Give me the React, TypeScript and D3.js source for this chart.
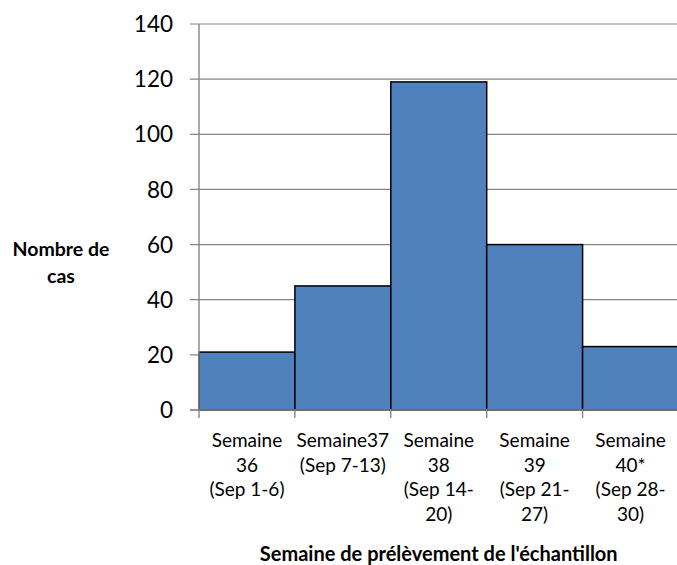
import React from "react";
import * as d3 from "d3";

// Weekly case counts by sampling week
const weekLabels: string[][] = [
  ["Semaine", "36", "(Sep 1-6)"],
  ["Semaine37", "(Sep 7-13)"],
  ["Semaine", "38", "(Sep 14-", "20)"],
  ["Semaine", "39", "(Sep 21-", "27)"],
  ["Semaine", "40*", "(Sep 28-", "30)"],
];
const weekKeys: string[] = ["S36", "S37", "S38", "S39", "S40"];
const caseCounts: number[] = [21, 45, 119, 60, 23];
const yTicks: number[] = [0, 20, 40, 60, 80, 100, 120, 140];

const W = 677;
const H = 565;
const margin = { left: 199, top: 24, right: -1.5, bottom: 155 };

const FONT = "Lato, 'Open Sans', sans-serif";
const GRID = "#868686";
const BAR = "#4F81BD";

export default function App() {
  const x = d3
    .scaleBand<string>()
    .domain(weekKeys)
    .range([margin.left, W - margin.right])
    .paddingInner(0)
    .paddingOuter(0);
  const y = d3.scaleLinear().domain([0, 140]).range([H - margin.bottom, margin.top]);

  const x0 = margin.left;
  const x1 = W - margin.right;
  const y0 = y(0);
  const bw = x.bandwidth();

  return (
    <svg
      width={W}
      height={H}
      style={{ position: "absolute", left: 0, top: 0, background: "#fff" }}
    >
      {/* horizontal gridlines with outer tick marks */}
      {yTicks.map((t) => (
        <g key={t}>
          <line x1={x0 - 9} x2={x1} y1={y(t)} y2={y(t)} stroke={GRID} strokeWidth={1.2} />
          <text
            x={173}
            y={y(t)}
            dy="0.36em"
            textAnchor="end"
            fontFamily={FONT}
            fontSize={22.5}
            fill="#000"
          >
            {t}
          </text>
        </g>
      ))}

      {/* bars */}
      {weekKeys.map((k, i) => (
        <rect
          key={k}
          x={x(k)!}
          y={y(caseCounts[i])}
          width={bw}
          height={y0 - y(caseCounts[i])}
          fill={BAR}
          stroke="#000"
          strokeWidth={1.5}
        />
      ))}

      {/* axes */}
      <line x1={x0} x2={x0} y1={y(140)} y2={y0 + 8} stroke={GRID} strokeWidth={1.4} />
      <line x1={x0 - 9} x2={x1} y1={y0} y2={y0} stroke={GRID} strokeWidth={1.6} />
      {weekKeys.map((k) => (
        <line
          key={k}
          x1={x(k)! + bw}
          x2={x(k)! + bw}
          y1={y0}
          y2={y0 + 8}
          stroke={GRID}
          strokeWidth={1.4}
        />
      ))}

      {/* category labels */}
      {weekKeys.map((k, i) => (
        <text
          key={k}
          x={x(k)! + bw / 2}
          y={447}
          textAnchor="middle"
          fontFamily={FONT}
          fontSize={19}
          fill="#000"
        >
          {weekLabels[i].map((line, j) => (
            <tspan key={j} x={x(k)! + bw / 2} dy={j === 0 ? 0 : 24.5}>
              {line}
            </tspan>
          ))}
        </text>
      ))}

      {/* axis titles */}
      <text
        x={61}
        y={256}
        textAnchor="middle"
        fontFamily={FONT}
        fontSize={19.5}
        fontWeight="bold"
        fill="#000"
      >
        <tspan x={61} dy={0}>Nombre de</tspan>
        <tspan x={61} dy={27}>cas</tspan>
      </text>
      <text
        x={(x0 + x1) / 2}
        y={560.5}
        textAnchor="middle"
        fontFamily={FONT}
        fontSize={20}
        fontWeight="bold"
        fill="#000"
      >
        Semaine de prélèvement de l'échantillon
      </text>
    </svg>
  );
}
